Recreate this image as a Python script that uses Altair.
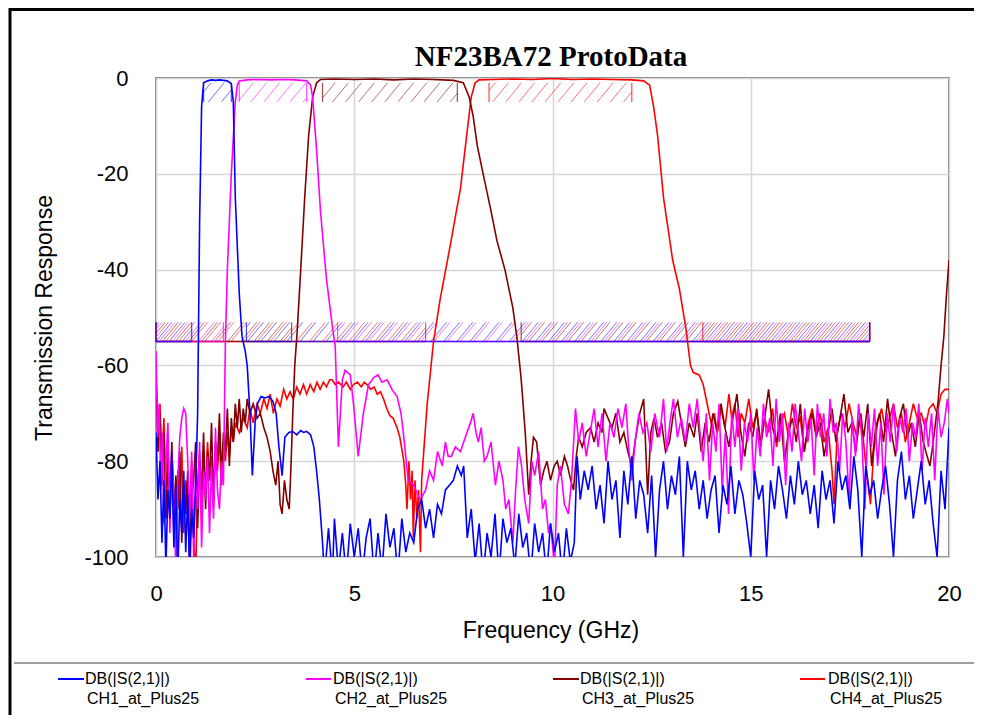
import math
import altair as alt
import pandas as pd

TITLE = "NF23BA72 ProtoData"
X_TITLE = "Frequency (GHz)"
Y_TITLE = "Transmission Response"
X_TICKS = [0, 5, 10, 15, 20]
Y_TICKS = [0, -20, -40, -60, -80, -100]
MEASURE = "DB(|S(2,1)|)"
CHANNELS = ["CH1_at_Plus25", "CH2_at_Plus25", "CH3_at_Plus25", "CH4_at_Plus25"]
COLORS = ["#0000ff", "#ff00ff", "#800000", "#ff0000"]

# (frequency GHz, dB)
CH1 = [(0.00, -74), (0.05, -88), (0.10, -80), (0.15, -97), (0.20, -84), (0.25, -102), (0.30, -86), (0.35, -92),
       (0.40, -78), (0.45, -98), (0.50, -85), (0.55, -104), (0.60, -88), (0.65, -95), (0.70, -82), (0.75, -99),
       (0.80, -87), (0.85, -104), (0.90, -90), (0.95, -96), (1.00, -85), (1.05, -70), (1.10, -30), (1.15, -6),
       (1.20, -1.0), (1.30, -0.6), (1.40, -0.4), (1.50, -0.5), (1.60, -0.4), (1.70, -0.5), (1.80, -0.6), (1.90, -1.2),
       (1.95, -5), (2.00, -25), (2.10, -45), (2.17, -54), (2.25, -57), (2.30, -60), (2.37, -70), (2.43, -83),
       (2.50, -72), (2.56, -68), (2.65, -66.5), (2.75, -66.8), (2.85, -66.5), (2.95, -67.5), (3.03, -70), (3.10, -77),
       (3.18, -83), (3.25, -75), (3.35, -74), (3.45, -73.8), (3.55, -74.5), (3.65, -73.6), (3.72, -74), (3.80, -73.8),
       (3.90, -74.5), (3.98, -77), (4.05, -82), (4.12, -88), (4.20, -97), (4.25, -104), (4.35, -94), (4.45, -104),
       (4.50, -92), (4.60, -103), (4.70, -95), (4.80, -104), (4.90, -93), (5.00, -100), (5.10, -94), (5.20, -104),
       (5.30, -96), (5.40, -92), (5.50, -104), (5.60, -95), (5.70, -103), (5.80, -91), (5.90, -98), (6.00, -94),
       (6.10, -104), (6.20, -92), (6.30, -99), (6.40, -95), (6.50, -97), (6.60, -90), (6.70, -88), (6.80, -94),
       (6.90, -90), (7.00, -96), (7.10, -89), (7.20, -91), (7.30, -86), (7.40, -85), (7.50, -84), (7.60, -81),
       (7.70, -83), (7.76, -81), (7.85, -96), (7.95, -90), (8.05, -101), (8.15, -93), (8.25, -104), (8.35, -95),
       (8.45, -100), (8.55, -91), (8.65, -104), (8.75, -92), (8.85, -97), (8.95, -94), (9.05, -102), (9.15, -91),
       (9.25, -98), (9.35, -95), (9.45, -104), (9.55, -93), (9.65, -99), (9.75, -95), (9.85, -104), (9.95, -93),
       (10.05, -99), (10.15, -95), (10.25, -104), (10.35, -94), (10.45, -101), (10.55, -97), (10.62, -79), (10.70, -88),
       (10.80, -82), (10.90, -86), (11.00, -81), (11.10, -90), (11.20, -85), (11.30, -93), (11.40, -80), (11.50, -88),
       (11.60, -84), (11.70, -96), (11.80, -82), (11.90, -89), (12.00, -79), (12.10, -92), (12.20, -84), (12.30, -87),
       (12.40, -95), (12.50, -83), (12.60, -100), (12.70, -86), (12.80, -80), (12.90, -90), (13.00, -83), (13.10, -87),
       (13.20, -79), (13.30, -100), (13.40, -80), (13.50, -86), (13.60, -82), (13.70, -90), (13.80, -84), (13.90, -92),
       (14.00, -86), (14.10, -83), (14.20, -95), (14.30, -85), (14.40, -89), (14.50, -81), (14.60, -91), (14.70, -84),
       (14.80, -87), (14.90, -93), (15.00, -100), (15.10, -82), (15.20, -88), (15.30, -85), (15.40, -100), (15.50, -84),
       (15.60, -90), (15.70, -81), (15.80, -86), (15.90, -92), (16.00, -83), (16.10, -89), (16.20, -80), (16.30, -87),
       (16.40, -84), (16.50, -91), (16.60, -85), (16.70, -94), (16.80, -82), (16.90, -88), (17.00, -84), (17.10, -93),
       (17.20, -80), (17.30, -86), (17.40, -83), (17.50, -90), (17.60, -79), (17.70, -86), (17.80, -100), (17.90, -81),
       (18.00, -87), (18.10, -84), (18.20, -92), (18.30, -86), (18.40, -81), (18.50, -89), (18.60, -100), (18.70, -84),
       (18.80, -78), (18.90, -88), (19.00, -83), (19.10, -92), (19.20, -86), (19.30, -80), (19.40, -89), (19.50, -84),
       (19.60, -93), (19.70, -100), (19.80, -82), (19.90, -90), (20.00, -73)]

CH2 = [(0.00, -57), (0.04, -75), (0.08, -68), (0.12, -86), (0.16, -74), (0.20, -93), (0.25, -80), (0.30, -72),
       (0.35, -95), (0.40, -78), (0.45, -88), (0.50, -102), (0.55, -84), (0.60, -75), (0.65, -71), (0.70, -69),
       (0.75, -70), (0.80, -80), (0.85, -92), (0.90, -78), (0.95, -100), (1.00, -83), (1.05, -90), (1.10, -76),
       (1.15, -98), (1.20, -82), (1.25, -88), (1.30, -79), (1.35, -95), (1.40, -81), (1.45, -92), (1.50, -73),
       (1.55, -86), (1.60, -90), (1.65, -80), (1.70, -85), (1.75, -55), (1.80, -40), (1.90, -20), (2.00, -5),
       (2.05, -1.5), (2.10, -0.6), (2.30, -0.4), (2.60, -0.3), (2.90, -0.4), (3.20, -0.3), (3.50, -0.4), (3.80, -0.6),
       (3.90, -1.5), (3.95, -4), (4.05, -15), (4.15, -28), (4.30, -42), (4.45, -52), (4.52, -56), (4.60, -77),
       (4.70, -63), (4.77, -61), (4.90, -62), (4.98, -68), (5.10, -79), (5.23, -70), (5.36, -64), (5.50, -62.5),
       (5.60, -62), (5.70, -63.5), (5.83, -63), (5.95, -65), (6.08, -66.5), (6.18, -70), (6.25, -75), (6.36, -84),
       (6.50, -85), (6.60, -87), (6.67, -88), (6.80, -86), (6.90, -82), (7.00, -84), (7.10, -78), (7.22, -81),
       (7.30, -76), (7.37, -79), (7.45, -79), (7.55, -77), (7.68, -78), (7.80, -75), (7.93, -72), (8.00, -70),
       (8.07, -74), (8.13, -76), (8.20, -73), (8.28, -80), (8.35, -79), (8.45, -76), (8.56, -85), (8.65, -80),
       (8.75, -84), (8.82, -90), (8.90, -88), (9.00, -97), (9.07, -86), (9.14, -77), (9.22, -81), (9.30, -88),
       (9.40, -93), (9.48, -80), (9.55, -83), (9.65, -78), (9.75, -90), (9.82, -88), (9.90, -95), (9.95, -93),
       (10.05, -102), (10.12, -85), (10.20, -81), (10.30, -89), (10.40, -91), (10.48, -84), (10.58, -69), (10.66, -76),
       (10.75, -72), (10.85, -79), (10.95, -74), (11.05, -69), (11.15, -77), (11.25, -70), (11.35, -80), (11.45, -72),
       (11.55, -75), (11.65, -69), (11.75, -73), (11.85, -68), (11.92, -77), (12.00, -84), (12.08, -76), (12.18, -70),
       (12.28, -74), (12.38, -72), (12.48, -78), (12.58, -70), (12.70, -75), (12.80, -67), (12.88, -78), (12.96, -72),
       (13.05, -67), (13.15, -75), (13.25, -71), (13.35, -76), (13.45, -68), (13.55, -73), (13.65, -67), (13.72, -74),
       (13.80, -80), (13.88, -70), (13.96, -84), (14.04, -72), (14.12, -78), (14.20, -68), (14.28, -86), (14.36, -74),
       (14.44, -91), (14.52, -70), (14.60, -77), (14.68, -69), (14.76, -82), (14.84, -72), (14.92, -76), (15.00, -70),
       (15.08, -84), (15.16, -73), (15.24, -79), (15.32, -68), (15.40, -75), (15.48, -71), (15.56, -81), (15.64, -67),
       (15.72, -76), (15.80, -70), (15.88, -85), (15.96, -72), (16.04, -78), (16.12, -68), (16.20, -74), (16.28, -80),
       (16.36, -69), (16.44, -76), (16.52, -71), (16.60, -83), (16.68, -68), (16.76, -75), (16.84, -70), (16.92, -79),
       (17.00, -67), (17.08, -74), (17.16, -72), (17.24, -82), (17.32, -70), (17.40, -76), (17.48, -88), (17.56, -71),
       (17.64, -79), (17.72, -68), (17.80, -75), (17.88, -90), (17.96, -70), (18.04, -77), (18.12, -69), (18.20, -81),
       (18.28, -72), (18.36, -87), (18.44, -70), (18.52, -76), (18.60, -68), (18.68, -78), (18.76, -71), (18.84, -74),
       (18.92, -69), (19.00, -80), (19.08, -72), (19.16, -75), (19.24, -68), (19.32, -82), (19.40, -71), (19.48, -77),
       (19.56, -70), (19.64, -84), (19.72, -69), (19.80, -75), (19.88, -72), (19.96, -67), (20.00, -70)]

CH3 = [(0.00, -62), (0.05, -78), (0.10, -70), (0.15, -85), (0.20, -74), (0.25, -92), (0.30, -80), (0.35, -88),
       (0.40, -76), (0.45, -95), (0.50, -83), (0.55, -90), (0.60, -78), (0.65, -97), (0.70, -85), (0.75, -91),
       (0.80, -82), (0.85, -100), (0.90, -88), (0.95, -84), (1.00, -76), (1.05, -94), (1.10, -80), (1.15, -86),
       (1.20, -74), (1.25, -90), (1.30, -78), (1.35, -84), (1.40, -72), (1.45, -88), (1.50, -76), (1.55, -80),
       (1.60, -70), (1.65, -83), (1.70, -74), (1.75, -78), (1.80, -69), (1.85, -81), (1.90, -71), (1.95, -76),
       (2.00, -68), (2.05, -73), (2.10, -67), (2.15, -74), (2.20, -69), (2.25, -72), (2.30, -67), (2.37, -70),
       (2.45, -68), (2.55, -71), (2.63, -70), (2.72, -73), (2.80, -75), (2.88, -78), (2.95, -82), (3.02, -85),
       (3.08, -80), (3.13, -89), (3.18, -91), (3.24, -84), (3.30, -88), (3.36, -90), (3.40, -82), (3.45, -70),
       (3.50, -60), (3.56, -53), (3.65, -40), (3.75, -25), (3.85, -12), (3.95, -4), (4.05, -1), (4.15, -0.3),
       (4.50, -0.2), (5.00, -0.3), (5.50, -0.2), (6.00, -0.4), (6.50, -0.2), (7.00, -0.3), (7.50, -0.5), (7.75, -1),
       (7.90, -4), (8.00, -8), (8.10, -14), (8.25, -20), (8.43, -27), (8.60, -34), (8.80, -40), (9.00, -48),
       (9.10, -54), (9.20, -62), (9.24, -66), (9.32, -75), (9.40, -87), (9.46, -80), (9.52, -75), (9.60, -76),
       (9.70, -85), (9.78, -82), (9.86, -80), (9.95, -84), (10.04, -81), (10.12, -80), (10.20, -83), (10.30, -79),
       (10.38, -81), (10.46, -84), (10.53, -86), (10.60, -79), (10.66, -75), (10.75, -77), (10.85, -74), (10.96, -73),
       (11.05, -76), (11.15, -72), (11.25, -74), (11.30, -69), (11.40, -71), (11.50, -73), (11.60, -70), (11.70, -76),
       (11.80, -74), (11.90, -78), (12.00, -81), (12.10, -75), (12.20, -70), (12.30, -67), (12.40, -87), (12.48, -74),
       (12.56, -71), (12.65, -75), (12.75, -72), (12.85, -78), (12.95, -76), (13.05, -70), (13.16, -67.5), (13.25, -72),
       (13.35, -77), (13.45, -72), (13.57, -75), (13.65, -70), (13.75, -78), (13.85, -72), (13.95, -76), (14.05, -70),
       (14.15, -74), (14.25, -68), (14.35, -73), (14.45, -77), (14.55, -71), (14.65, -66), (14.75, -74), (14.85, -79),
       (14.95, -72), (15.05, -75), (15.15, -69), (15.25, -77), (15.35, -71), (15.45, -65), (15.55, -73), (15.65, -76),
       (15.75, -70), (15.85, -80), (15.95, -74), (16.05, -71), (16.15, -76), (16.25, -68), (16.35, -78), (16.45, -73),
       (16.55, -70), (16.65, -75), (16.75, -72), (16.85, -79), (16.95, -74), (17.05, -69), (17.15, -76), (17.25, -71),
       (17.35, -66), (17.45, -74), (17.55, -72), (17.65, -78), (17.75, -70), (17.85, -75), (17.95, -68), (18.05, -81),
       (18.15, -73), (18.25, -70), (18.35, -76), (18.45, -67), (18.55, -74), (18.65, -79), (18.75, -71), (18.85, -68),
       (18.95, -75), (19.05, -72), (19.15, -77), (19.25, -70), (19.35, -76), (19.45, -79), (19.52, -81), (19.60, -76),
       (19.66, -72), (19.72, -68), (19.80, -60), (19.87, -54), (19.93, -46), (20.00, -38)]

CH4 = [(0.00, -63), (0.05, -72), (0.10, -68), (0.15, -80), (0.20, -71), (0.25, -88), (0.30, -75), (0.35, -92),
       (0.40, -79), (0.45, -86), (0.50, -98), (0.55, -82), (0.60, -90), (0.65, -77), (0.70, -95), (0.75, -84),
       (0.80, -89), (0.85, -102), (0.90, -80), (0.95, -96), (1.00, -104), (1.05, -85), (1.10, -78), (1.15, -92),
       (1.20, -80), (1.25, -86), (1.30, -76), (1.35, -84), (1.40, -79), (1.45, -90), (1.50, -77), (1.55, -82),
       (1.60, -75), (1.65, -85), (1.70, -77), (1.75, -80), (1.80, -74), (1.85, -79), (1.90, -73), (1.95, -76),
       (2.00, -72), (2.10, -74), (2.20, -71), (2.30, -73), (2.37, -69), (2.45, -72), (2.55, -68), (2.63, -70),
       (2.72, -67), (2.80, -69), (2.88, -66), (2.96, -70), (3.05, -67), (3.13, -68.5), (3.22, -65), (3.30, -67),
       (3.38, -65.5), (3.46, -67), (3.55, -64.5), (3.63, -66), (3.72, -64), (3.80, -66), (3.89, -64), (3.98, -65.5),
       (4.06, -63.5), (4.14, -65), (4.22, -63.5), (4.30, -64.5), (4.38, -63), (4.44, -63), (4.52, -64), (4.60, -63.5),
       (4.72, -64.5), (4.80, -63.5), (4.90, -65), (4.98, -64), (5.08, -63.5), (5.18, -64.5), (5.25, -63.5), (5.32, -64),
       (5.42, -65), (5.50, -64.5), (5.58, -66), (5.66, -65.5), (5.74, -67), (5.82, -69), (5.90, -70.5), (5.98, -71),
       (6.08, -73), (6.15, -75), (6.25, -80), (6.30, -85), (6.33, -90), (6.38, -80), (6.42, -88), (6.46, -82),
       (6.49, -96), (6.53, -84), (6.58, -92), (6.62, -86), (6.67, -99), (6.70, -84), (6.84, -68), (7.00, -55),
       (7.17, -46), (7.42, -35), (7.68, -23), (7.85, -11), (7.95, -4), (8.05, -1), (8.15, -0.4), (8.50, -0.3),
       (9.00, -0.2), (9.50, -0.3), (10.00, -0.1), (10.50, -0.3), (11.00, -0.2), (11.50, -0.3), (12.00, -0.4), (12.30, -0.6),
       (12.45, -1.5), (12.55, -6), (12.65, -12), (12.80, -25), (13.03, -38), (13.20, -44), (13.36, -52), (13.42, -56),
       (13.48, -60), (13.55, -61.5), (13.70, -62), (13.80, -64), (13.90, -68), (14.00, -72), (14.08, -70), (14.16, -74),
       (14.25, -69), (14.35, -73), (14.45, -66), (14.52, -71), (14.60, -68), (14.68, -75), (14.76, -70), (14.85, -72),
       (14.95, -67), (15.05, -73), (15.15, -70), (15.25, -76), (15.35, -71), (15.45, -74), (15.55, -69), (15.65, -77),
       (15.75, -72), (15.85, -70), (15.95, -75), (16.05, -68), (16.15, -73), (16.25, -71), (16.35, -78), (16.45, -72),
       (16.55, -69), (16.65, -74), (16.75, -70), (16.85, -76), (16.95, -73), (17.05, -82), (17.10, -89), (17.18, -74),
       (17.28, -70), (17.38, -73), (17.48, -68), (17.58, -72), (17.68, -75), (17.78, -70), (17.88, -79), (17.96, -85),
       (18.02, -89), (18.10, -78), (18.20, -72), (18.30, -69), (18.40, -74), (18.50, -71), (18.60, -68), (18.70, -73),
       (18.80, -70), (18.90, -76), (19.00, -72), (19.10, -68), (19.20, -71), (19.30, -70), (19.40, -73), (19.50, -69),
       (19.60, -68), (19.70, -70), (19.80, -66), (19.90, -65), (20.00, -65)]

SERIES = [CH1, CH2, CH3, CH4]

# spec masks (GHz, dB)
PASS_BANDS = [(1.2, 1.9), (2.1, 3.8), (4.2, 7.6), (8.4, 12.0)]
PASS_LEVELS = (-5, -1)
STOP_BANDS = [[(0.0, 0.9), (2.28, 18.0)],
              [(0.0, 1.7), (4.58, 18.0)],
              [(0.0, 3.42), (9.21, 18.0)],
              [(0.0, 6.8), (13.79, 18.0)]]
STOP_LEVELS = (-55, -51)
HATCH_SPACING = 0.33
HATCH_SLOPE = 0.10
HATCH_PHASE = [0.0, 0.08, 0.16, 0.24]

FONT = "Liberation Sans"

W, H = 793, 479
xscale = alt.Scale(domain=[0, 20], nice=False, zero=False)
yscale = alt.Scale(domain=[-100, 0], nice=False, zero=False)

X_AXIS = alt.Axis(values=X_TICKS, title=None, grid=True, gridColor="#d6d6d6", gridWidth=1.5,
                  domain=False, ticks=False, labelFont=FONT, labelFontSize=22, labelColor="black",
                  labelPadding=26, labelFlush=False, labelOverlap=False, labelExpr="'' + datum.value")
Y_AXIS = alt.Axis(values=Y_TICKS, title=None, grid=True, gridColor="#d6d6d6", gridWidth=1.5,
                  domain=False, ticks=False, labelFont=FONT, labelFontSize=22, labelColor="black",
                  labelPadding=28, labelFlush=False, labelOverlap=False, labelExpr="'' + datum.value")


def hatch_rows(x0, x1, ylo, yhi, phase):
    w = (yhi - ylo) * HATCH_SLOPE
    rows = []
    k = math.floor((x0 - w - phase) / HATCH_SPACING)
    while True:
        xs = phase + k * HATCH_SPACING
        if xs > x1:
            break
        ta = max(0.0, (x0 - xs) / w)
        tb = min(1.0, (x1 - xs) / w)
        if tb > ta:
            rows.append({"xa": xs + ta * w, "xb": xs + tb * w,
                         "ya": ylo + ta * (yhi - ylo), "yb": ylo + tb * (yhi - ylo)})
        k += 1
    return rows


layers = []

# hatched mask regions
draw_order = [3, 2, 1, 0]
for i in draw_order:
    rows = []
    for (a, b) in STOP_BANDS[i]:
        rows += hatch_rows(a, b, STOP_LEVELS[0], STOP_LEVELS[1], HATCH_PHASE[i])
    a, b = PASS_BANDS[i]
    rows += hatch_rows(a, b, PASS_LEVELS[0], PASS_LEVELS[1], HATCH_PHASE[i])
    layers.append(
        alt.Chart(pd.DataFrame(rows)).mark_rule(color=COLORS[i], opacity=0.55, strokeWidth=1).encode(
            x=alt.X("xa:Q", scale=xscale, axis=X_AXIS), x2="xb:Q",
            y=alt.Y("ya:Q", scale=yscale, axis=Y_AXIS), y2="yb:Q")
    )
    sides = []
    for (a, b) in STOP_BANDS[i]:
        sides += [{"x": a, "y1": STOP_LEVELS[0], "y2": STOP_LEVELS[1]},
                  {"x": b, "y1": STOP_LEVELS[0], "y2": STOP_LEVELS[1]}]
    a, b = PASS_BANDS[i]
    sides += [{"x": a, "y1": PASS_LEVELS[0], "y2": PASS_LEVELS[1]},
              {"x": b, "y1": PASS_LEVELS[0], "y2": PASS_LEVELS[1]}]
    layers.append(
        alt.Chart(pd.DataFrame(sides)).mark_rule(color=COLORS[i], opacity=0.7, strokeWidth=1.2).encode(
            x=alt.X("x:Q", scale=xscale, axis=X_AXIS),
            y=alt.Y("y1:Q", scale=yscale, axis=Y_AXIS), y2="y2:Q")
    )
    bottoms = [{"x1": a, "x2": b, "y": STOP_LEVELS[0]} for (a, b) in STOP_BANDS[i]]
    layers.append(
        alt.Chart(pd.DataFrame(bottoms)).mark_rule(color=COLORS[i], opacity=0.7, strokeWidth=1.5).encode(
            x=alt.X("x1:Q", scale=xscale, axis=X_AXIS), x2="x2:Q",
            y=alt.Y("y:Q", scale=yscale, axis=Y_AXIS))
    )

# traces
trace_order = [3, 2, 1, 0]
for i in trace_order:
    df = pd.DataFrame(SERIES[i], columns=["f", "db"])
    layers.append(
        alt.Chart(df).mark_line(color=COLORS[i], strokeWidth=1.6, clip=True).encode(
            x=alt.X("f:Q", scale=xscale, axis=X_AXIS),
            y=alt.Y("db:Q", scale=yscale, axis=Y_AXIS))
    )

one = pd.DataFrame({"k": [0]})

# outer frame and separator (pixel offsets from plot origin)
layers.append(alt.Chart(one).mark_rule(color="black", strokeWidth=3).encode(
    x=alt.value(-146), y=alt.value(-70), y2=alt.value(640)))
layers.append(alt.Chart(one).mark_rule(color="black", strokeWidth=3).encode(
    x=alt.value(-147), x2=alt.value(820), y=alt.value(-68.5)))
layers.append(alt.Chart(one).mark_rule(color="#a0a0a0", strokeWidth=2).encode(
    x=alt.value(-142), x2=alt.value(820), y=alt.value(585)))

# title and axis titles
layers.append(alt.Chart(one).mark_text(font="Liberation Serif", fontSize=29, fontWeight="bold",
                                       align="center", baseline="alphabetic", color="black").encode(
    x=alt.value(395), y=alt.value(-12), text=alt.value(TITLE)))
layers.append(alt.Chart(one).mark_text(font=FONT, fontSize=23, align="center", baseline="middle",
                                       color="black").encode(
    x=alt.value(395), y=alt.value(553), text=alt.value(X_TITLE)))
layers.append(alt.Chart(one).mark_text(font=FONT, fontSize=23, align="center", baseline="middle",
                                       angle=270, color="black").encode(
    x=alt.value(-111), y=alt.value(240), text=alt.value(Y_TITLE)))

# legend
LEG_LINE_X = [(-98, -72), (150, 175), (397, 423), (644, 669)]
LEG_TEXT_X = [-71, 177, 424, 672]
for i in range(4):
    x0, x1 = LEG_LINE_X[i]
    layers.append(alt.Chart(one).mark_rule(color=COLORS[i], strokeWidth=2).encode(
        x=alt.value(x0), x2=alt.value(x1), y=alt.value(601)))
    layers.append(alt.Chart(one).mark_text(font=FONT, fontSize=16, align="left", baseline="middle",
                                           color="black").encode(
        x=alt.value(LEG_TEXT_X[i]), y=alt.value(601), text=alt.value(MEASURE)))
    layers.append(alt.Chart(one).mark_text(font=FONT, fontSize=16, align="left", baseline="middle",
                                           color="black").encode(
        x=alt.value(LEG_TEXT_X[i] + 2), y=alt.value(621), text=alt.value(CHANNELS[i])))

chart = alt.layer(*layers).properties(
    width=W, height=H,
    padding={"left": 148, "top": 70, "right": 25, "bottom": 158},
    autosize=alt.AutoSizeParams(type="none"),
    background="white",
).configure_view(stroke="#555555", strokeWidth=1.5)

chart.save("out.html", embed_options={"renderer": "svg", "actions": False})
